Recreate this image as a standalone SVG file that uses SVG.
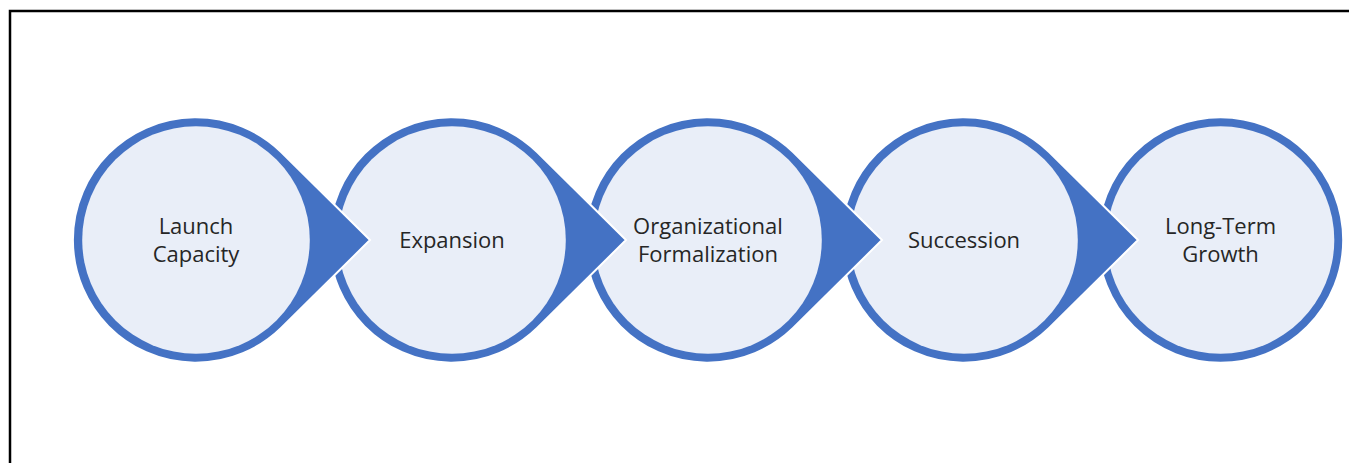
<svg xmlns="http://www.w3.org/2000/svg" width="1349" height="463" viewBox="0 0 1349 463">
<style>
.frame{fill:#ffffff;stroke:#000000;stroke-width:2.5}
.drop{fill:#4472C4;stroke:#ffffff;stroke-width:2}
.inner{fill:#E9EEF8}
.lbl{font-family:"Open Sans","Noto Sans","Liberation Sans",sans-serif;font-size:22px;fill:#262626;text-anchor:middle}
</style>
<rect class="frame" x="10" y="11" width="1400" height="500"/>
<g id="connectors"></g>
<g id="node5">
<circle class="drop" cx="1220.5" cy="240" r="122.7"/>
<circle class="inner" cx="1220.5" cy="240" r="113.8"/>
<text class="lbl" x="1220.5" y="234">Long-Term</text>
<text class="lbl" x="1220.5" y="262">Growth</text>
</g>
<g id="node4">
<path class="drop" d="M1138,240 L1049.1,152 A122.7,122.7 0 1 0 1049.1,328 Z"/>
<circle class="inner" cx="964" cy="240" r="113.8"/>
<text class="lbl" x="964" y="248">Succession</text>
</g>
<g id="node3">
<path class="drop" d="M882,240 L793.1,152 A122.7,122.7 0 1 0 793.1,328 Z"/>
<circle class="inner" cx="708" cy="240" r="113.8"/>
<text class="lbl" x="708" y="234">Organizational</text>
<text class="lbl" x="708" y="262">Formalization</text>
</g>
<g id="node2">
<path class="drop" d="M626,240 L537.1,152 A122.7,122.7 0 1 0 537.1,328 Z"/>
<circle class="inner" cx="452" cy="240" r="113.8"/>
<text class="lbl" x="452" y="248">Expansion</text>
</g>
<g id="node1">
<path class="drop" d="M370,240 L281.1,152 A122.7,122.7 0 1 0 281.1,328 Z"/>
<circle class="inner" cx="196" cy="240" r="113.8"/>
<text class="lbl" x="196" y="234">Launch</text>
<text class="lbl" x="196" y="262">Capacity</text>
</g>
</svg>
